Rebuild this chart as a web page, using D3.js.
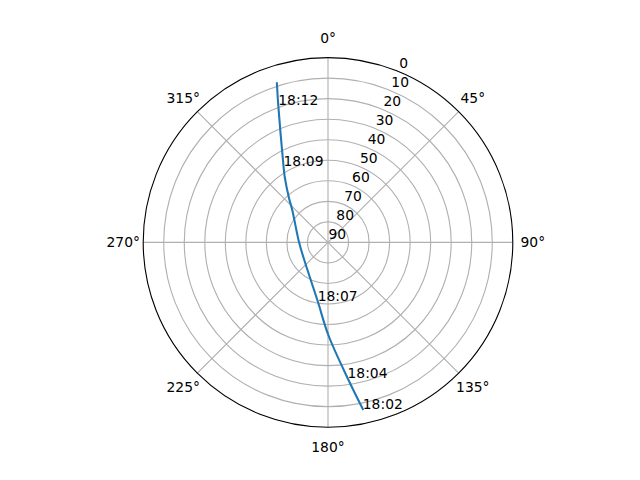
<!DOCTYPE html>
<html>
<head>
<meta charset="utf-8">
<script src="https://cdn.jsdelivr.net/npm/d3@7"></script>
<style>
html,body{margin:0;padding:0;background:#fff;}
svg{display:block;}
text{font-family:"DejaVu Sans",sans-serif;font-size:13.89px;fill:#000;}
</style>
</head>
<body>
<svg id="chart" width="640" height="480"></svg>
<script>
// Pass track: azimuth (deg, clockwise from north) and elevation (deg)
const trackAz = [168.2, 171.8, 179.8, 190.0, 233.4, 270.2, 312.2, 318.7, 326.6, 329.8, 340.1, 342.2];
const trackEl = [7.1, 23.3, 44.9, 61.0, 75.6, 75.9, 66.5, 61.2, 51.7, 46.9, 18.8, 8.6];

// Time annotations
const labelTimes = ["18:02", "18:04", "18:07", "18:09", "18:12"];
const labelAz = [168.2, 171.8, 190.0, 329.8, 340.1];
const labelEl = [7.1, 23.3, 61.0, 46.9, 18.8];

// Axis ticks
const thetaTicks = [0, 45, 90, 135, 180, 225, 270, 315];
const rTicks = [0, 10, 20, 30, 40, 50, 60, 70, 80, 90];
const rLabelAngle = 22.5;

const W = 640, H = 480;
const axLeft = 0.125 * W, axRight = 0.9 * W, axTop = (1 - 0.88) * H, axBottom = (1 - 0.11) * H;
const R = Math.min(axRight - axLeft, axBottom - axTop) / 2;
const cx = (axLeft + axRight) / 2, cy = (axTop + axBottom) / 2;

const rScale = d3.scaleLinear().domain([90, 0]).range([0, R]);
const aScale = d3.scaleLinear().domain([0, 360]).range([0, 2 * Math.PI]);

const svg = d3.select("#chart");
const g = svg.append("g").attr("transform", `translate(${cx},${cy})`);

const gridColor = "#b0b0b0", gridW = 1.11;

// radial grid circles
g.append("g").selectAll("circle").data(rTicks.filter(d => d > 0 && d < 90)).join("circle")
  .attr("r", d => rScale(d)).attr("fill", "none")
  .attr("stroke", gridColor).attr("stroke-width", gridW);

// angular grid lines
g.append("g").selectAll("line").data(thetaTicks).join("line")
  .attr("x1", 0).attr("y1", 0)
  .attr("x2", d => R * Math.sin(aScale(d)))
  .attr("y2", d => -R * Math.cos(aScale(d)))
  .attr("stroke", gridColor).attr("stroke-width", gridW);

// outer spine
g.append("circle").attr("r", R).attr("fill", "none")
  .attr("stroke", "#000").attr("stroke-width", 1.11);

// theta labels
g.append("g").selectAll("text").data(thetaTicks).join("text")
  .attr("x", d => (R + 20) * Math.sin(aScale(d)))
  .attr("y", d => -(R + 20) * Math.cos(aScale(d)))
  .attr("text-anchor", "middle").attr("dominant-baseline", "central")
  .text(d => d + "°");

// radial labels
g.append("g").selectAll("text").data(rTicks).join("text")
  .attr("x", d => rScale(d) * Math.sin(aScale(rLabelAngle)) + 0.5)
  .attr("y", d => -rScale(d) * Math.cos(aScale(rLabelAngle)) - 3.5)
  .attr("text-anchor", "start")
  .text(d => d);

// track line
const pts = trackAz.map((a, i) => [a, trackEl[i]]);
const line = d3.lineRadial()
  .angle(d => aScale(d[0]))
  .radius(d => rScale(d[1]))
  .curve(d3.curveCatmullRom.alpha(0.5));
g.append("path").datum(pts).attr("d", line)
  .attr("fill", "none").attr("stroke", "#1f77b4").attr("stroke-width", 2.08)
  .attr("stroke-linecap", "square");

// time labels
g.append("g").selectAll("text").data(labelTimes).join("text")
  .attr("x", (d, i) => rScale(labelEl[i]) * Math.sin(aScale(labelAz[i])))
  .attr("y", (d, i) => -rScale(labelEl[i]) * Math.cos(aScale(labelAz[i])))
  .attr("text-anchor", "start")
  .text(d => d);
</script>
</body>
</html>
